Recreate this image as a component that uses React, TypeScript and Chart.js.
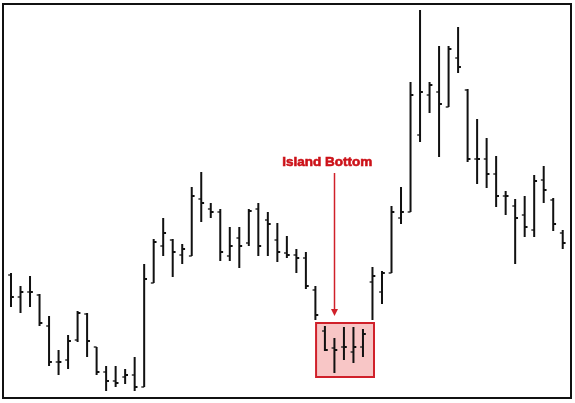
import React, { useEffect, useRef } from "react";
import { Chart, registerables } from "chart.js";

Chart.register(...registerables);

const highs = [62.7, 61.4, 62.4, 60.6, 58.4, 55.0, 56.5, 58.9, 58.7, 55.3, 53.4, 53.4, 53.1, 54.3, 63.6, 66.1, 68.2, 66.1, 65.6, 71.3, 72.8, 69.7, 69.1, 67.3, 67.3, 69.1, 69.7, 68.8, 67.7, 66.4, 65.1, 64.8, 61.4, 57.4, 56.2, 57.3, 57.3, 57.1, 63.3, 62.9, 69.4, 71.3, 81.8, 89.0, 81.8, 85.4, 85.4, 87.3, 81.1, 78.1, 76.2, 74.4, 70.9, 70.1, 70.4, 72.5, 73.4, 70.2, 67.0];
const lows = [59.3, 58.7, 59.3, 57.4, 53.4, 52.5, 53.1, 55.8, 54.3, 52.5, 50.9, 51.3, 51.6, 50.9, 51.3, 61.7, 64.4, 62.3, 63.6, 64.4, 67.8, 68.2, 63.9, 63.9, 63.2, 65.4, 64.4, 64.4, 63.8, 64.2, 62.7, 61.1, 58.0, 54.9, 52.7, 54.0, 53.7, 54.3, 58.0, 59.6, 62.7, 67.6, 68.8, 75.8, 78.7, 74.3, 79.3, 82.7, 73.8, 71.6, 71.2, 69.3, 68.5, 63.6, 66.3, 66.3, 69.7, 66.9, 65.1];
const opens = [62.5, 60.3, 60.8, 60.5, 57.4, 53.8, 54.0, 56.0, 58.6, 55.3, 52.8, 51.9, 52.3, 52.5, 51.3, 61.7, 65.4, 66.0, 64.5, 64.4, 70.1, 69.1, 68.8, 64.4, 66.2, 65.7, 69.1, 68.0, 66.0, 64.7, 64.5, 64.2, 61.0, 56.9, 55.2, 55.3, 54.8, 55.3, 61.8, 60.8, 62.7, 68.2, 68.8, 76.5, 80.5, 80.8, 79.3, 84.2, 81.0, 74.1, 74.1, 72.6, 70.4, 69.4, 68.5, 67.0, 72.0, 70.0, 66.7];
const closes = [60.3, 60.8, 60.8, 57.7, 53.8, 53.8, 55.9, 58.7, 55.9, 52.8, 51.9, 51.7, 52.5, 51.3, 62.1, 65.8, 66.7, 64.8, 65.1, 70.4, 69.7, 68.8, 64.8, 65.4, 65.4, 68.9, 65.4, 67.6, 64.8, 64.5, 64.2, 61.4, 58.5, 55.0, 55.0, 55.3, 55.3, 56.6, 62.4, 62.7, 68.8, 68.8, 80.5, 80.8, 81.5, 79.6, 85.1, 83.3, 74.1, 74.1, 72.6, 70.4, 70.4, 68.2, 67.3, 71.9, 71.0, 67.6, 65.7];

const annotationText = "Island Bottom";
const islandFirst = 33;
const islandLast = 37;

const TICK = 0.3;

export default function App() {
  const ref = useRef<HTMLCanvasElement | null>(null);

  useEffect(() => {
    const canvas = ref.current;
    if (!canvas) return;

    const ranges: any[] = [];
    const openTicks: any[] = [];
    const closeTicks: any[] = [];
    highs.forEach((h, i) => {
      ranges.push({ x: i, y: lows[i] }, { x: i, y: h }, { x: i, y: null });
      openTicks.push({ x: i - TICK, y: opens[i] }, { x: i, y: opens[i] }, { x: i, y: null });
      closeTicks.push({ x: i, y: closes[i] }, { x: i + TICK, y: closes[i] }, { x: i, y: null });
    });

    const annotation = {
      id: "islandAnnotation",
      afterDatasetsDraw(chart: any) {
        const { ctx, scales } = chart;
        const xs = scales.x;
        const ys = scales.y;
        const left = xs.getPixelForValue(islandFirst - 0.93);
        const right = xs.getPixelForValue(islandLast + 1.16);
        let hi = -Infinity;
        let lo = Infinity;
        for (let i = islandFirst; i <= islandLast; i++) {
          hi = Math.max(hi, highs[i]);
          lo = Math.min(lo, lows[i]);
        }
        const top = ys.getPixelForValue(hi + 0.3);
        const bottom = ys.getPixelForValue(lo - 0.4);
        ctx.save();
        ctx.globalCompositeOperation = "destination-over";
        ctx.fillStyle = "#f8c6c6";
        ctx.fillRect(left, top, right - left, bottom - top);
        ctx.restore();
        ctx.save();
        ctx.strokeStyle = "#d0202a";
        ctx.lineWidth = 2;
        ctx.strokeRect(left, top, right - left, bottom - top);

        const mid = (islandFirst + islandLast) / 2;
        const ax = Math.round(xs.getPixelForValue(mid - 1)) + 0.5;
        const arrowTop = ys.getPixelForValue(72.7);
        const arrowTip = ys.getPixelForValue(58.4);
        ctx.strokeStyle = "#d0202a";
        ctx.lineWidth = 1.5;
        ctx.beginPath();
        ctx.moveTo(ax, arrowTop);
        ctx.lineTo(ax, arrowTip - 6);
        ctx.stroke();
        ctx.fillStyle = "#d0202a";
        ctx.beginPath();
        ctx.moveTo(ax - 3.5, arrowTip - 7);
        ctx.lineTo(ax + 3.5, arrowTip - 7);
        ctx.lineTo(ax, arrowTip);
        ctx.closePath();
        ctx.fill();

        ctx.fillStyle = "#cc1219";
        ctx.strokeStyle = "#cc1219";
        ctx.lineWidth = 0.6;
        ctx.font = "bold 13.5px 'Liberation Sans', Arial, sans-serif";
        ctx.textAlign = "center";
        ctx.textBaseline = "middle";
        const tx = xs.getPixelForValue(mid - 1.75);
        const ty = ys.getPixelForValue(73.8);
        ctx.fillText(annotationText, tx, ty);
        ctx.strokeText(annotationText, tx, ty);
        ctx.restore();
      },
    };

    const common = {
      pointRadius: 0,
      spanGaps: false,
      borderCapStyle: "butt",
      tension: 0,
    };

    const chart = new Chart(canvas, {
      type: "line",
      data: {
        datasets: [
          { ...common, data: ranges, borderColor: "#111111", borderWidth: 2 },
          { ...common, data: openTicks, borderColor: "#333333", borderWidth: 1.5 },
          { ...common, data: closeTicks, borderColor: "#111111", borderWidth: 2 },
        ],
      } as any,
      options: {
        animation: false,
        responsive: false,
        devicePixelRatio: 1,
        layout: { padding: 0 },
        plugins: {
          legend: { display: false },
          tooltip: { enabled: false },
        },
        scales: {
          x: { type: "linear", display: false, min: -1.156, max: 59.29 },
          y: { type: "linear", display: false, min: 49.7, max: 90 },
        },
      },
      plugins: [annotation],
    });

    return () => chart.destroy();
  }, []);

  return (
    <div style={{ position: "fixed", left: 0, top: 0, width: 575, height: 403, background: "#ffffff" }}>
      <canvas ref={ref} width={575} height={403} style={{ position: "absolute", left: 0, top: 0 }} />
      <div
        style={{
          position: "absolute",
          left: 2,
          top: 3,
          width: 570,
          height: 396,
          border: "2px solid #111111",
          boxSizing: "border-box",
          pointerEvents: "none",
        }}
      />
    </div>
  );
}
